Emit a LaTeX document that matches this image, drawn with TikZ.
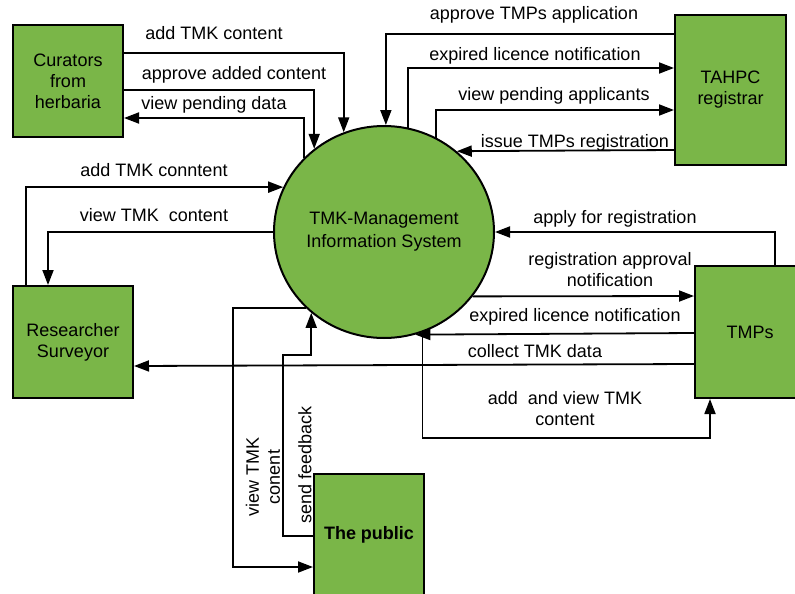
\documentclass[tikz,border=0pt]{standalone}
\usepackage{fontspec}
\setmainfont{Liberation Sans}
\usetikzlibrary{arrows.meta,shapes.geometric,calc}
\definecolor{boxgreen}{HTML}{7AB648}
\begin{document}
\begin{tikzpicture}[x=1pt,y=-1pt,
  font=\fontsize{18}{21}\selectfont,
  ent/.style={draw=black, line width=2pt, fill=boxgreen, align=center, inner sep=0pt},
  flow/.style={draw=black, line width=1.8pt, -{Triangle[length=15pt,width=11pt]}},
  lbl/.style={inner sep=0pt, anchor=base},
  lbl2/.style={inner sep=0pt, align=center},
]
\useasboundingbox (0,0) rectangle (795,594);
\clip (0,0) rectangle (795,594);
% entities
\node[ent, minimum width=110pt, minimum height=112pt] (cur) at (68,81) {Curators\\from\\herbaria};
\node[ent, minimum width=111pt, minimum height=150pt] (tah) at (730.5,90) {TAHPC\\registrar};
\node[ent, minimum width=120pt, minimum height=112pt] (res) at (73,342) {Researcher\\Surveyor};
\node[ent, minimum width=110pt, minimum height=132pt] (tmp) at (750,332) {TMPs};
\node[ent, minimum width=110pt, minimum height=122pt, font=\fontsize{18}{21}\selectfont\bfseries] (pub) at (369,535) {The public};
\node[ent, ellipse, minimum width=220pt, minimum height=212pt, font=\fontsize{18}{23}\selectfont] (sys) at (384,232) {TMK-Management\\Information System};
% connectors
\draw[flow] (cur.east |- 0,53) -| (sys.112);
\draw[flow] (cur.east |- 0,90) -| (sys.130.5);
\draw[flow] (sys.137.7) |- (cur.east |- 0,118);
\draw[flow] (res.north -| 26,0) |- (sys.156.3);
\draw[flow] (sys.west) -| (res.north -| 48,0);
\draw[flow] (tah.west |- 0,34) -| (sys.89.5);
\draw[flow] (sys.77.5) |- (tah.west |- 0,68);
\draw[flow] (sys.61.5) |- (tah.west |- 0,110);
\draw[flow] (tah.west |- 0,150) -- (sys.48.8);
\draw[flow] (tmp.north -| 775,0) |- (sys.east);
\draw[flow] (sys.-36.8) -- (tmp.west |- 0,296);
\draw[flow] (tmp.west |- 0,333) -- (sys.-73.7);
\draw[flow] (tmp.west |- 0,364) -- (res.east |- 0,366);
\draw[flow] (sys.-69.7) -- (sys.-69.7 |- 0,438) -| (tmp.south -| 710,0);
\draw[flow] (sys.224.7) -| (233,567) -- (pub.west |- 0,567);
\draw[flow] (pub.west |- 0,536) -| (283,355) -| (sys.228.8);
% labels
\node[lbl] (t1) at (214,40) {add TMK content};
\node[lbl] (t2) at (234,80) {approve added content};
\node[lbl] (t3) at (214,109) {view pending data};
\node[lbl] (t4) at (154,176) {add TMK conntent};
\node[lbl] (t5) at (154,221) {view TMK\ \ content};
\node[lbl] (t6) at (534,20) {approve TMPs application};
\node[lbl] (t7) at (535,60) {expired licence notification};
\node[lbl] (t8) at (554,100) {view pending applicants};
\node[lbl] (t9) at (575,147) {issue TMPs registration};
\node[lbl] (t10) at (615,223) {apply for registration};
\node[lbl2] (t11) at (610,270) {registration approval\\notification};
\node[lbl] (t12) at (575,321) {expired licence notification};
\node[lbl] (t13) at (535,357) {collect TMK data};
\node[lbl2] (t14) at (565,409) {add\ \ and view TMK\\content};
\node[lbl2, rotate=90] (t15) at (263,477) {view TMK\\conent};
\node[lbl2, rotate=90] (t16) at (305,465) {send feedback};
\end{tikzpicture}
\end{document}
